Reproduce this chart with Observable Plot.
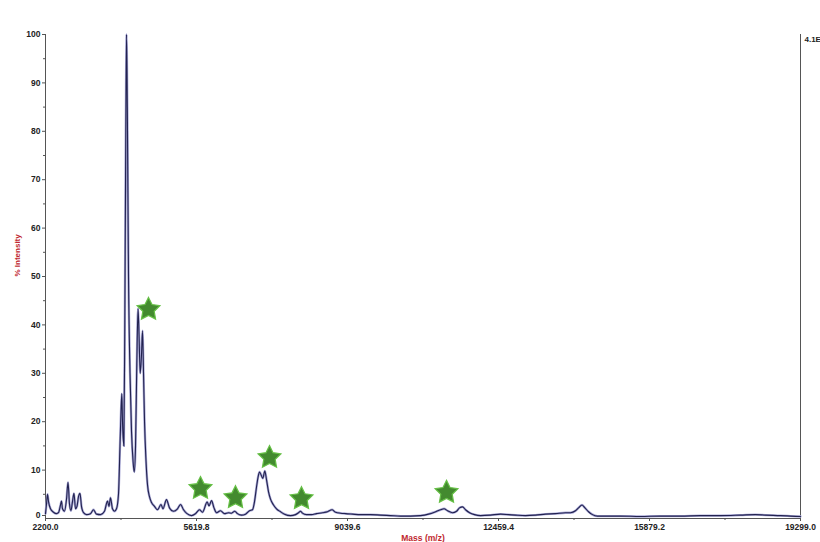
<!DOCTYPE html>
<html>
<head>
<meta charset="utf-8">
<script src="https://cdn.jsdelivr.net/npm/d3@7"></script>
<script src="https://cdn.jsdelivr.net/npm/@observablehq/plot@0.6"></script>
<style>
  html, body { margin: 0; padding: 0; background: #fff; overflow: hidden; }
  #chart svg { display: block; }
</style>
</head>
<body>
<div id="chart"></div>
<script>
// Spectrum: mass (m/z) and % intensity
const mass = [2200,2223,2245,2268,2313,2381,2449,2494,2540,2562,2585,2630,2676,2710,2743,2777,2811,2845,2879,2913,2947,2981,3015,3061,3129,3219,3287,3355,3446,3536,3604,3638,3672,3717,3763,3808,3853,3887,3910,3928,3944,3974,3996,4019,4035,4053,4080,4114,4148,4182,4209,4239,4268,4296,4318,4345,4375,4397,4420,4443,4476,4510,4555,4601,4669,4737,4816,4861,4940,5008,5099,5190,5258,5326,5405,5507,5597,5688,5756,5862,5903,5960,6016,6073,6163,6254,6345,6413,6487,6548,6639,6730,6820,6888,6934,6979,7013,7047,7122,7167,7206,7251,7296,7364,7432,7522,7613,7749,7862,7930,7975,8020,8111,8224,8338,8474,8587,8689,8769,8881,8994,9153,9334,9561,9787,10014,10240,10467,10693,10874,11010,11146,11226,11305,11418,11509,11577,11645,11713,11804,11917,12052,12278,12505,12686,12844,13070,13297,13524,13750,13977,14090,14203,14271,14351,14407,14498,14588,14701,14770,15223,15675,16128,16581,17034,17487,17940,18280,18506,18846,19073,19299];
const intensity = [1.0,3.0,5.0,3.5,2.0,1.3,1.0,1.2,2.8,3.6,2.0,1.5,4.0,7.5,3.0,1.6,3.5,5.2,2.0,2.5,4.5,5.2,2.5,1.2,0.8,1.0,1.8,0.9,0.8,1.5,3.6,2.5,4.3,2.0,1.5,2.0,5.0,15,22,25.8,20,15,40,80,100,85,50,30,18,12,9.6,15,32,43.4,38,30,34,38.8,30,20,12,7,4.5,3.3,2.5,1.8,2.9,2.0,3.9,2.2,1.5,2.0,2.9,1.8,1.0,0.6,1.0,1.8,1.3,3.4,2.6,3.7,2.2,1.2,1.6,1.0,1.2,1.1,1.5,1.0,0.7,0.9,1.6,1.8,3.5,6.5,8.5,9.6,8.3,9.8,8.0,5.5,4.0,2.8,2.0,1.4,0.9,0.6,0.8,1.2,1.5,1.1,0.8,0.8,1.0,1.2,1.4,1.8,1.3,1.1,1.0,0.9,0.8,0.8,0.7,0.6,0.5,0.5,0.6,0.9,1.3,1.8,2.0,1.6,1.2,1.5,2.2,2.4,1.8,1.2,0.8,0.6,0.7,0.9,0.8,0.7,0.6,0.7,0.9,1.0,1.2,1.2,1.6,2.2,2.8,2.3,1.4,0.8,0.5,0.5,0.5,0.4,0.5,0.5,0.6,0.6,0.7,0.8,0.7,0.6,0.5,0.4];

// Star markers (mass, % intensity)
const starMass = [4533, 5710, 6503, 7273, 7998, 11282];
const starIntensity = [43.2, 6.2, 4.3, 12.6, 4.1, 5.4];

// Axis ticks
const xTicks = [2200.0, 5619.8, 9039.6, 12459.4, 15879.2, 19299.0];
const yTicks = [0, 10, 20, 30, 40, 50, 60, 70, 80, 90, 100];
const scaleLabel = "4.1E";

const spectrum = mass.map((m, i) => ({m, v: intensity[i]}));
const stars = starMass.map((m, i) => ({m, v: starIntensity[i]}));
const xMinor = xTicks.slice(1).map((t, i) => (t + xTicks[i]) / 2);
const yMinor = yTicks.slice(1).map((t, i) => (t + yTicks[i]) / 2);

// A plump five-pointed star symbol
const fatStar = {
  draw(context, size) {
    const R = Math.sqrt(size / Math.PI);
    const r = R * 0.5;
    for (let i = 0; i < 10; i++) {
      const a = -Math.PI / 2 + i * Math.PI / 5;
      const rr = i % 2 === 0 ? R : r;
      const px = rr * Math.cos(a), py = rr * Math.sin(a);
      if (i === 0) context.moveTo(px, py); else context.lineTo(px, py);
    }
    context.closePath();
  }
};

const chart = Plot.plot({
  width: 820,
  height: 542,
  marginLeft: 45,
  marginRight: 20,
  marginTop: 34,
  marginBottom: 24,
  style: {fontFamily: "Liberation Sans, Arial, sans-serif", fontSize: "8.5px", fontWeight: "bold", background: "#fff", overflow: "visible"},
  x: {domain: [2200, 19299]},
  y: {domain: [0, 100]},
  marks: [
    Plot.ruleX([2200, 19299], {y1: 0, y2: 100, stroke: "#555", strokeWidth: 1}),
    Plot.ruleY([0], {stroke: "#555", strokeWidth: 1}),
    Plot.axisY({ticks: yTicks.slice(1), tickSize: 3, tickPadding: 2, tickFormat: d => String(d), label: null, stroke: "#555", fill: "#222"}),
    Plot.axisY({ticks: [0], tickSize: 3, tickPadding: 2, dy: -3, tickFormat: d => String(d), label: null, stroke: "#555", fill: "#222"}),
    Plot.axisY({ticks: yMinor, tickSize: 2, tickFormat: () => "", label: null, stroke: "#555"}),
    Plot.axisX({ticks: xTicks, tickSize: 3, tickPadding: 2, tickFormat: d => d.toFixed(1), label: null, stroke: "#555", fill: "#222"}),
    Plot.axisX({ticks: xMinor, tickSize: 2, tickFormat: () => "", label: null, stroke: "#555"}),
    Plot.line(spectrum, {x: "m", y: "v", stroke: "#a9a9d6", strokeWidth: 2.4, curve: "monotone-x"}),
    Plot.line(spectrum, {x: "m", y: "v", stroke: "#22224f", strokeWidth: 1.1, curve: "monotone-x"}),
    Plot.dot(stars, {x: "m", y: "v", symbol: fatStar, r: 12, fill: "#438a2f", stroke: "#66c046", strokeWidth: 1.2}),
    Plot.text([scaleLabel], {x: 19299, y: 100, dx: 4, dy: 5, textAnchor: "start", fontSize: 8, fill: "#222"}),
    Plot.text(["% Intensity"], {frameAnchor: "left", dx: -28, rotate: -90, fill: "#c0272d", fontSize: 8}),
    Plot.text(["Mass (m/z)"], {frameAnchor: "bottom", dy: 16, lineAnchor: "top", fill: "#c0272d", fontSize: 8.5})
  ]
});
document.getElementById("chart").appendChild(chart);
</script>
</body>
</html>
